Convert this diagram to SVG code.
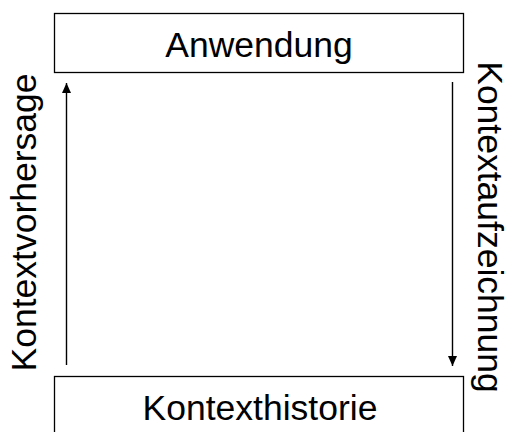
<svg xmlns="http://www.w3.org/2000/svg" width="505" height="432" viewBox="0 0 505 432">
  <style>
    .box { fill: #ffffff; stroke: #000000; stroke-width: 1.3; }
    .lbl { font-family: "Liberation Sans", Arial, sans-serif; font-size: 35.5px; fill: #000000; }
    .edge { stroke: #000000; stroke-width: 1.4; fill: none; marker-end: url(#arrow); }
  </style>
  <defs>
    <marker id="arrow" viewBox="0 0 10 10" refX="10" refY="5" markerWidth="11" markerHeight="10" markerUnits="userSpaceOnUse" orient="auto">
      <path d="M0,0.5 L10,5 L0,9.5 Z" fill="#000000"/>
    </marker>
  </defs>
  <rect width="505" height="432" fill="#ffffff"/>

  <g id="anwendung">
    <rect class="box" x="54.5" y="13.5" width="409" height="59"/>
    <text class="lbl" x="259" y="56.5" text-anchor="middle">Anwendung</text>
  </g>

  <g id="kontexthistorie">
    <rect class="box" x="54.5" y="376.5" width="409" height="70"/>
    <text class="lbl" x="260" y="419.5" text-anchor="middle">Kontexthistorie</text>
  </g>

  <g id="connectors">
    <line class="edge" x1="66.5" y1="365" x2="66.5" y2="83"/>
    <line class="edge" x1="452.5" y1="82" x2="452.5" y2="366"/>
    <text class="lbl" transform="translate(36,222.5) rotate(-90)" text-anchor="middle">Kontextvorhersage</text>
    <text class="lbl" transform="translate(477.5,227) rotate(90)" text-anchor="middle">Kontextaufzeichnung</text>
  </g>
</svg>
